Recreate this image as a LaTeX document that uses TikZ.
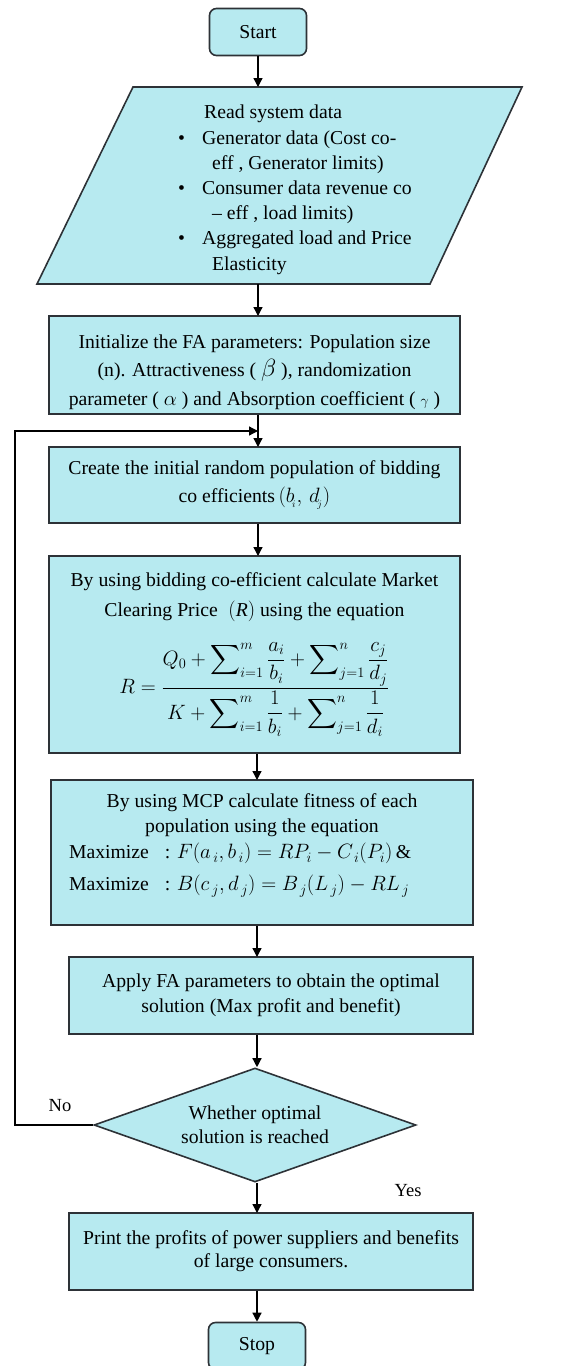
\documentclass[tikz,border=0pt]{standalone}
\usepackage{amsmath}
\usepackage{fontspec}
\setmainfont{Liberation Serif}
\usetikzlibrary{shapes.geometric,arrows.meta}
\definecolor{boxfill}{RGB}{183,234,240}
\definecolor{boxline}{RGB}{45,50,55}
\begin{document}
\begin{tikzpicture}[x=1pt,y=-1pt,
  every node/.style={font=\fontsize{19.7}{28}\selectfont, inner sep=0pt},
  procbox/.style={draw=boxline, line width=1.6pt, fill=boxfill, rectangle, align=center},
  termbox/.style={draw=boxline, line width=1.6pt, fill=boxfill, rectangle, rounded corners=7pt, minimum width=97pt, minimum height=47pt},
  decbox/.style={draw=boxline, line width=1.6pt, fill=boxfill, diamond, aspect=2.82, minimum width=322pt, minimum height=114pt, align=center},
  flow/.style={draw=black, line width=1.3pt, -{Triangle[length=9pt,width=9pt]}},
  lbl/.style={font=\fontsize{18.5}{20}\selectfont}
]
\useasboundingbox (0,0) rectangle (565,1366);

% Start
\node[termbox] (start) at (258,32) {Start};

% Parallelogram (read data)
\coordinate (rtl) at (133,87);
\coordinate (rtr) at (522,87);
\coordinate (rbr) at (430,284);
\coordinate (rbl) at (37,284);
\filldraw[draw=boxline, line width=1.6pt, fill=boxfill] (rtl) -- (rtr) -- (rbr) -- (rbl) -- cycle;
\coordinate (readtop) at (258,87);
\coordinate (readbot) at (258,284);
\node[font=\fontsize{19.7}{25.2}\selectfont, align=left, anchor=north west] (read) at (178,105) {%
\hspace*{26pt}Read system data\\
\makebox[24pt][l]{\textbullet}Generator data (Cost co-\\
\hspace*{34pt}eff , Generator limits)\\
\makebox[24pt][l]{\textbullet}Consumer data revenue co\\
\hspace*{34pt}-- eff , load limits)\\
\makebox[24pt][l]{\textbullet}Aggregated load and Price\\
\hspace*{34pt}Elasticity};

% Initialize
\node[procbox, font=\fontsize{19.7}{28.5}\selectfont, minimum width=411pt, minimum height=98pt] (init) at (254.5,365)
{\rule{0pt}{28pt}Initialize the FA parameters: Population size\\
(n). Attractiveness ( {\fontsize{25}{25}\selectfont$\beta$} ), randomization\\
parameter ( $\alpha$ ) and Absorption coefficient ( $\scriptstyle\gamma$ )};

% Create
\node[procbox, minimum width=411pt, minimum height=76pt] (create) at (254.5,485)
{Create the initial random population of bidding\\
co efficients$\,(b_{\!_i},\, d_{\!_j})$};

% MCP
\node[procbox, font=\fontsize{19.7}{30}\selectfont, minimum width=411pt, minimum height=197pt] (mcp) at (254.5,654.5)
{By using bidding co-efficient calculate Market\\
Clearing Price $\;(\mathit{R})$ using the equation\\[20pt]
{\fontsize{21}{22}\selectfont $\displaystyle R=\frac{\displaystyle Q_0+\sum\nolimits_{i=1}^{m}\frac{a_i}{b_i}+\sum\nolimits_{j=1}^{n}\frac{c_j}{d_j}}{\displaystyle K+\sum\nolimits_{i=1}^{m}\frac{1}{b_i}+\sum\nolimits_{j=1}^{n}\frac{1}{d_i}}$}};

% Fitness
\node[procbox, font=\fontsize{19.7}{25}\selectfont, minimum width=422pt, minimum height=145pt] (fit) at (262,852.5)
{By using MCP calculate fitness of each\\
population using the equation\\[1pt]
\makebox[386pt][l]{Maximize\hspace{16pt}: $F(a_{\,i},b_{\,i})=RP_i-C_{\,i}(P_i)$\,\&}\\[7pt]
\makebox[386pt][l]{Maximize\hspace{16pt}: $B(c_{\,j},d_{\,j})=B_{\,j}(L_{\,j})-RL_{\,j}$}\rule[-20pt]{0pt}{0pt}};

% Apply
\node[procbox, font=\fontsize{19.7}{25}\selectfont, minimum width=404pt, minimum height=77pt] (apply) at (271,995.5)
{Apply FA parameters to obtain the optimal\\
solution (Max profit and benefit)};

% Decision
\node[decbox, font=\fontsize{19.7}{24}\selectfont] (dec) at (255,1125)
{Whether optimal\\ solution is reached};

% Print
\node[procbox, font=\fontsize{19.7}{23}\selectfont, minimum width=404pt, minimum height=77pt] (print) at (271,1251.5)
{Print the profits of power suppliers and benefits\\
of large consumers.};

% Stop
\node[termbox] (stop) at (257,1346) {Stop};

% Labels
\node[lbl] (no) at (60,1106) {No};
\node[lbl] (yes) at (408,1191) {Yes};

% Connectors
\draw[flow] (start.south) -- (readtop);
\draw[flow] (readbot) -- (258,316);
\draw[flow] (init.south -| readbot) -- (258,447);
\draw[flow] (create.south -| readbot) -- (258,556);
\draw[flow] (mcp.south -| 257,0) -- (257,780);
\draw[flow] (fit.south -| 257,0) -- (257,957);
\draw[flow] (apply.south -| 257,0) -- (dec.north -| 257,0);
\draw[flow] (dec.south -| 257,0) -- (257,1213);
\draw[flow] (print.south -| 257,0) -- (stop.north -| 257,0);
\coordinate (fbl) at (15,1125);
\coordinate (fbt) at (15,431);
\coordinate (fbe) at (258,431);
\draw[flow] (dec.west) -- (fbl) -- (fbt) -- (fbe);
\end{tikzpicture}
\end{document}
